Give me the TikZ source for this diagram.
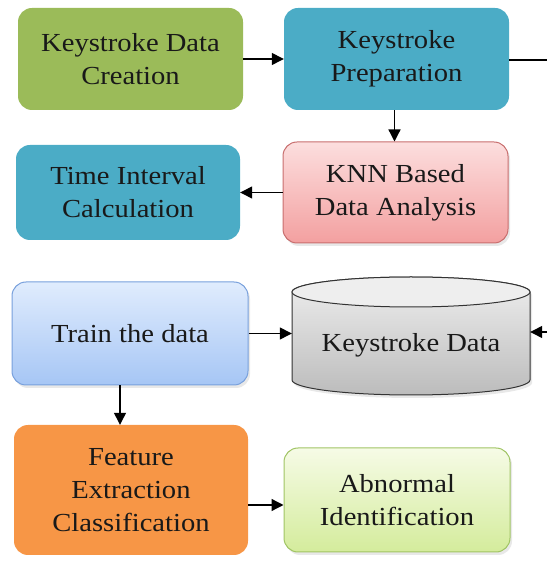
\documentclass[tikz,border=0pt]{standalone}
\usepackage{fontspec}
\setmainfont{Liberation Serif}[FakeStretch=1.1]
\usetikzlibrary{arrows.meta,shadows}

\definecolor{olivegreen}{RGB}{155,187,89}
\definecolor{tealblue}{RGB}{75,172,198}
\definecolor{orangebox}{RGB}{247,150,70}
\definecolor{pinktop}{RGB}{252,222,222}
\definecolor{pinkbot}{RGB}{243,160,160}
\definecolor{pinkline}{RGB}{200,110,110}
\definecolor{skytop}{RGB}{224,236,253}
\definecolor{skybot}{RGB}{166,198,245}
\definecolor{skyline}{RGB}{120,160,220}
\definecolor{limetop}{RGB}{246,251,230}
\definecolor{limebot}{RGB}{212,236,156}
\definecolor{limeline}{RGB}{160,196,100}
\definecolor{greytop}{RGB}{238,238,238}
\definecolor{greybot}{RGB}{188,188,188}

\begin{document}
\begin{tikzpicture}[x=1pt,y=1pt,
  box/.style={rounded corners=14pt, align=center, inner sep=0pt,
    font=\fontsize{26}{33}\selectfont, text=black!90},
  solidbox/.style={box, fill=#1, draw=none},
  gradbox/.style n args={3}{box, top color=#1, bottom color=#2, draw=#3, line width=1pt,
    drop shadow={opacity=0.18, shadow xshift=2pt, shadow yshift=-3pt}},
  flow/.style={line width=1.3pt, -{Triangle[length=12pt,width=12pt]}}]

\useasboundingbox (0,0) rectangle (547,563);

% process boxes
\node[solidbox=olivegreen, minimum width=225, minimum height=102] (kdc) at (130.5,504) {Keystroke Data\\Creation};
\node[solidbox=tealblue, minimum width=225, minimum height=102] (kp) at (396.5,504) {Keystroke\\Preparation};
\node[gradbox={pinktop}{pinkbot}{pinkline}, minimum width=225, minimum height=101] (knn) at (395.5,370.5) {KNN Based\\Data Analysis};
\node[solidbox=tealblue, minimum width=224, minimum height=95] (ti) at (128,370.5) {Time Interval\\Calculation};
\node[gradbox={skytop}{skybot}{skyline}, minimum width=236, minimum height=103] (train) at (130,229.5) {Train the data};
\node[solidbox=orangebox, minimum width=234, minimum height=130] (feat) at (131,73) {Feature\\Extraction\\Classification};
\node[gradbox={limetop}{limebot}{limeline}, minimum width=226, minimum height=104] (abn) at (397,63) {Abnormal\\Identification};

% data store drawn as a cylinder
\path[draw=black!80, line width=1pt, top color=greytop, bottom color=greybot,
  drop shadow={opacity=0.18, shadow xshift=2pt, shadow yshift=-3pt}]
  (292,271) -- (292,183) arc[start angle=180, end angle=360, x radius=119, y radius=15]
  -- (530,271) arc[start angle=0, end angle=180, x radius=119, y radius=15] -- cycle;
\path[draw=black!80, line width=1pt, fill=greytop] (411,271) ellipse[x radius=119, y radius=15];
\node[minimum width=238, minimum height=118, inner sep=0pt] (cyl) at (411,227) {};
\node[font=\fontsize{26}{33}\selectfont, text=black!90] (cyltext) at (411,218) {Keystroke Data};

% connectors
\coordinate (outR) at (547,503);
\coordinate (inR) at (547,231);
\draw[flow] (kdc.east) -- (kp.west);
\draw[line width=1.3pt] (kp.east |- outR) -- (outR);
\draw[flow] ([xshift=-2pt]kp.south) -- ([xshift=-2pt]kp.south |- knn.north);
\draw[flow] (knn.west) -- (ti.east);
\draw[flow] (train.east) -- (train.east -| cyl.west);
\draw[flow] (inR) -- (inR -| cyl.east);
\draw[flow] ([xshift=-10pt]train.south) -- ([xshift=-10pt]train.south |- feat.north);
\draw[flow] ([yshift=-5pt]abn.west -| feat.east) -- ([yshift=-5pt]abn.west);
\end{tikzpicture}
\end{document}
